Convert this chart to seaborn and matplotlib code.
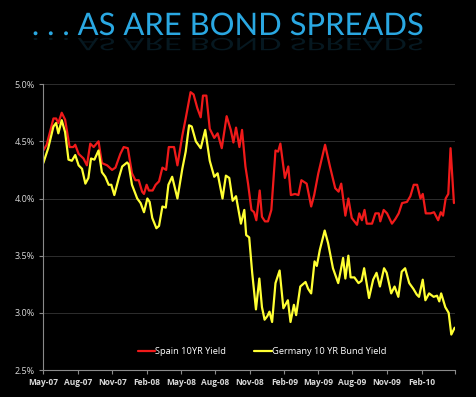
import numpy as np
import pandas as pd
import matplotlib
matplotlib.use("Agg")
import matplotlib.pyplot as plt
from matplotlib.ticker import FuncFormatter
from matplotlib.textpath import TextPath
from matplotlib.patches import PathPatch
from matplotlib.font_manager import FontProperties
from matplotlib.transforms import Affine2D, IdentityTransform
import seaborn as sns

# ---- data (days since 2007-05-01, yield %) ----
spain_days = [0, 9, 27, 34, 40, 49, 58, 70, 80, 85, 94, 107, 116, 125, 134, 147, 156, 170, 183, 192,
              205, 214, 225, 236, 245, 254, 263, 268, 275, 281, 291, 299, 308, 317, 327, 334, 348, 357,
              370, 379, 392, 400, 410, 419, 425, 434, 443, 455, 464, 475, 488, 499, 506, 513, 522, 529,
              538, 545, 554, 561, 567, 576, 582, 590, 598, 607, 618, 625, 631, 643, 652, 659, 670, 679,
              687, 701, 713, 721, 732, 750, 763, 777, 786, 793, 804, 812, 821, 835, 841, 848, 855, 861,
              875, 884, 893, 897, 906, 915, 928, 937, 946, 955, 968, 977, 986, 995, 1004, 1010, 1018,
              1031, 1040, 1051, 1058, 1064, 1071, 1078, 1084, 1093]
spain_yield = [4.42, 4.47, 4.70, 4.70, 4.66, 4.75, 4.69, 4.45, 4.45, 4.47, 4.39, 4.35, 4.29, 4.48, 4.45,
               4.50, 4.31, 4.29, 4.25, 4.27, 4.39, 4.45, 4.44, 4.22, 4.16, 4.16, 4.06, 4.04, 4.12, 4.07,
               4.07, 4.12, 4.15, 4.27, 4.25, 4.45, 4.45, 4.29, 4.55, 4.70, 4.93, 4.91, 4.79, 4.71, 4.90,
               4.90, 4.61, 4.53, 4.57, 4.44, 4.72, 4.60, 4.49, 4.62, 4.45, 4.60, 4.28, 4.13, 3.90, 3.88,
               3.81, 4.07, 3.84, 3.80, 3.80, 3.90, 4.42, 4.41, 4.48, 4.18, 4.28, 4.03, 4.04, 4.03, 4.16,
               4.13, 3.93, 4.03, 4.22, 4.47, 4.28, 4.09, 4.06, 4.13, 3.85, 4.00, 3.83, 3.77, 3.87, 3.81,
               3.90, 3.78, 3.78, 3.87, 3.87, 3.80, 3.90, 3.87, 3.78, 3.82, 3.87, 3.96, 3.97, 4.02, 4.12,
               4.12, 4.00, 4.04, 3.87, 3.87, 3.88, 3.81, 3.88, 3.85, 4.00, 4.04, 4.44, 3.96]

germany_days = [0, 13, 27, 34, 40, 49, 58, 67, 76, 85, 94, 103, 112, 120, 127, 136, 147, 156, 165, 174,
                181, 189, 201, 210, 223, 227, 236, 250, 259, 268, 277, 283, 290, 301, 308, 317, 326, 333,
                343, 357, 370, 379, 388, 395, 406, 419, 431, 443, 455, 464, 477, 486, 495, 504, 513, 526,
                535, 540, 548, 556, 566, 575, 582, 589, 596, 602, 609, 618, 629, 639, 651, 658, 667, 673,
                684, 698, 705, 713, 722, 728, 736, 749, 758, 771, 785, 791, 798, 804, 812, 818, 828, 839,
                847, 854, 867, 878, 887, 896, 907, 914, 926, 935, 945, 954, 963, 974, 985, 994, 1000,
                1010, 1017, 1027, 1039, 1048, 1054, 1059, 1070, 1079, 1086, 1095]
germany_yield = [4.31, 4.44, 4.63, 4.66, 4.57, 4.685, 4.58, 4.34, 4.33, 4.38, 4.29, 4.26, 4.13, 4.18,
                 4.35, 4.34, 4.42, 4.23, 4.19, 4.12, 4.12, 4.03, 4.18, 4.28, 4.315, 4.30, 4.12, 4.00,
                 3.96, 3.88, 4.00, 3.97, 3.83, 3.74, 3.76, 3.93, 3.92, 4.12, 4.19, 4.00, 4.26, 4.41,
                 4.64, 4.63, 4.50, 4.44, 4.60, 4.33, 4.19, 4.22, 4.00, 4.20, 4.18, 3.98, 4.02, 3.78,
                 3.90, 3.68, 3.66, 3.35, 3.03, 3.30, 3.05, 2.94, 2.97, 3.01, 2.92, 3.26, 3.37, 3.04,
                 3.11, 2.92, 3.07, 2.98, 3.23, 3.27, 3.21, 3.17, 3.45, 3.41, 3.55, 3.72, 3.61, 3.39,
                 3.26, 3.36, 3.48, 3.30, 3.50, 3.31, 3.31, 3.26, 3.28, 3.39, 3.13, 3.29, 3.35, 3.23,
                 3.39, 3.35, 3.17, 3.23, 3.14, 3.36, 3.39, 3.26, 3.21, 3.16, 3.14, 3.29, 3.11, 3.17,
                 3.14, 3.15, 3.10, 3.17, 3.05, 3.00, 2.81, 2.87]

series_names = ["Spain 10YR Yield", "Germany 10 YR Bund Yield"]
series_colors = ["#f01a1a", "#ffff33"]
title_text = ". . . AS ARE BOND SPREADS"
tick_dates = pd.date_range("2007-05-01", "2010-05-01", freq="3MS")
tick_labels = [d.strftime("%b-%y") for d in tick_dates[:-1]] + [""]
y_ticks = [2.5, 3.0, 3.5, 4.0, 4.5, 5.0]

start = pd.Timestamp("2007-05-01")
df = pd.concat([
    pd.DataFrame({"date": start + pd.to_timedelta(spain_days, unit="D"),
                  "yield": spain_yield, "series": series_names[0]}),
    pd.DataFrame({"date": start + pd.to_timedelta(germany_days, unit="D"),
                  "yield": germany_yield, "series": series_names[1]}),
])

sns.set_style("dark")
plt.rcParams["font.family"] = ["Open Sans", "DejaVu Sans"]

W, H, DPI = 4.77, 3.97, 100
fig = plt.figure(figsize=(W, H), dpi=DPI, facecolor="black")
ax = fig.add_axes([0.0908, 0.068, 0.8632, 0.720])
ax.set_facecolor("black")

sns.lineplot(data=df, x="date", y="yield", hue="series", palette=series_colors,
             hue_order=series_names, linewidth=1.6, ax=ax, legend=False)

ax.set_xlim(tick_dates[0], tick_dates[-1])
ax.set_ylim(2.5, 5.0)
ax.set_xticks(tick_dates)
ax.set_xticklabels(tick_labels)
ax.set_yticks(y_ticks)
ax.yaxis.set_major_formatter(FuncFormatter(lambda v, p: f"{v:.1f}%"))
ax.set_xlabel("")
ax.set_ylabel("")

ax.grid(False)
for y in y_ticks[1:]:
    ax.axhline(y, color="#2e2e2e", lw=0.7, zorder=0)

for s in ["top", "right"]:
    ax.spines[s].set_visible(False)
for s in ["left", "bottom"]:
    ax.spines[s].set_visible(True)
    ax.spines[s].set_color("#8a8a8a")
    ax.spines[s].set_linewidth(0.8)

ax.tick_params(axis="x", colors="#8a8a8a", length=3, width=0.8, direction="out",
               labelsize=6, labelcolor="#d8d8d8", pad=3, bottom=True)
ax.tick_params(axis="y", colors="#8a8a8a", length=3, width=0.8, direction="out",
               labelsize=6.5, labelcolor="#d8d8d8", pad=3, left=True)
for lab in ax.get_xticklabels():
    lab.set_fontweight("bold")

handles = [plt.Line2D([], [], color=c, lw=1.6) for c in series_colors]
leg = ax.legend(handles, series_names, loc="lower center", bbox_to_anchor=(0.531, 0.02),
                ncol=2, frameon=False, fontsize=6.7, handlelength=1.9, handletextpad=0.0,
                columnspacing=3.0)
for t in leg.get_texts():
    t.set_color("white")

# title with a faint reflection (drawn in pixel coordinates)
fp = FontProperties(family="Lato")
size_px = 31
tp = TextPath((0, 0), title_text, size=size_px, prop=fp)
ext = tp.get_extents()
x0 = (33 + 423) / 2 - (ext.x0 + ext.x1) / 2
baseline = H * DPI - 35
main = PathPatch(tp, facecolor="#2aa8e2", edgecolor="none",
                 transform=Affine2D().translate(x0, baseline) + IdentityTransform())
refl = PathPatch(tp, facecolor="#15506c", edgecolor="none", alpha=0.3,
                 transform=Affine2D().scale(1, -0.55).translate(x0, baseline - 3) + IdentityTransform())
fig.add_artist(refl)
fig.add_artist(main)

fig.savefig("out.png", dpi=DPI, facecolor="black")
